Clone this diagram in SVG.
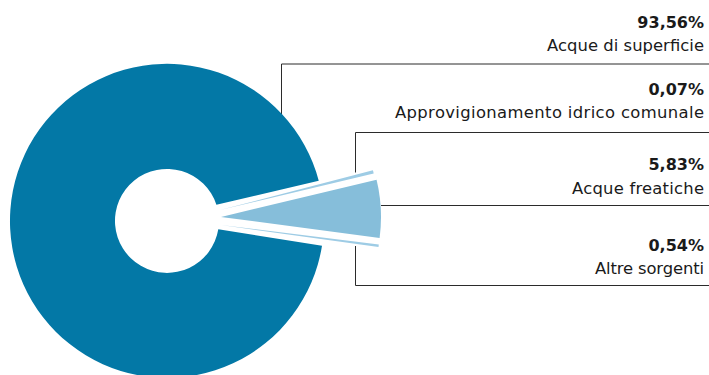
<svg xmlns="http://www.w3.org/2000/svg" width="709" height="375" viewBox="0 0 709 375">
  <style>
    .ln { stroke: #2b2b2b; stroke-width: 1; fill: none; }
    .pct { font-family: "DejaVu Sans", "Liberation Sans", sans-serif; font-size: 16px; font-weight: 700; fill: #1a1a1a; text-anchor: end; }
    .lbl { font-family: "DejaVu Sans", "Liberation Sans", sans-serif; font-size: 16.4px; font-weight: 400; fill: #1a1a1a; text-anchor: end; }
    .dark { fill: #0378A6; }
    .light { fill: #86BEDA; }
    .sliver { fill: #9ECCE5; }
  </style>
  <rect x="0" y="0" width="709" height="375" fill="#ffffff"/>

  <g id="connectors">
    <polyline class="ln" points="281.5,116 281.5,64 709,64"/>
    <polyline class="ln" points="355.5,172.5 355.5,132.5 709,132.5"/>
    <polyline class="ln" points="355.5,246 355.5,285.5 709,285.5"/>
    <line class="ln" x1="381" y1="205.5" x2="709" y2="205.5"/>
  </g>

  <g id="slice-superficie">
    <path class="dark" d="M 216.4,204.7 L 318.75,180.7 A 157 157 0 1 0 322,245.7 L 218.3,229.3 A 52 52 0 1 1 216.4,204.7 Z"/>
  </g>
  <g id="slice-comunale">
    <path class="sliver" d="M 220,210 L 372.9,170.2 A 158 158 0 0 1 373.7,173.4 Z"/>
  </g>
  <g id="slice-freatiche">
    <path class="light" d="M 221,217 L 376.58,179.65 A 160 160 0 0 1 379.63,237.88 Z"/>
  </g>
  <g id="slice-altre">
    <path class="sliver" d="M 221,225 L 378.8,244.4 A 159 159 0 0 1 378.5,247.1 Z"/>
  </g>

  <g id="label-superficie">
    <text class="pct" x="704" y="28.3">93,56%</text>
    <text class="lbl" x="704" y="50.7" textLength="157" lengthAdjust="spacing">Acque di superficie</text>
  </g>
  <g id="label-comunale">
    <text class="pct" x="704" y="95">0,07%</text>
    <text class="lbl" x="704" y="117.7" textLength="309" lengthAdjust="spacing">Approvigionamento idrico comunale</text>
  </g>
  <g id="label-freatiche">
    <text class="pct" x="704" y="170">5,83%</text>
    <text class="lbl" x="704" y="194" textLength="132" lengthAdjust="spacing">Acque freatiche</text>
  </g>
  <g id="label-altre">
    <text class="pct" x="704" y="250.7">0,54%</text>
    <text class="lbl" x="704" y="274" textLength="109" lengthAdjust="spacing">Altre sorgenti</text>
  </g>
</svg>
